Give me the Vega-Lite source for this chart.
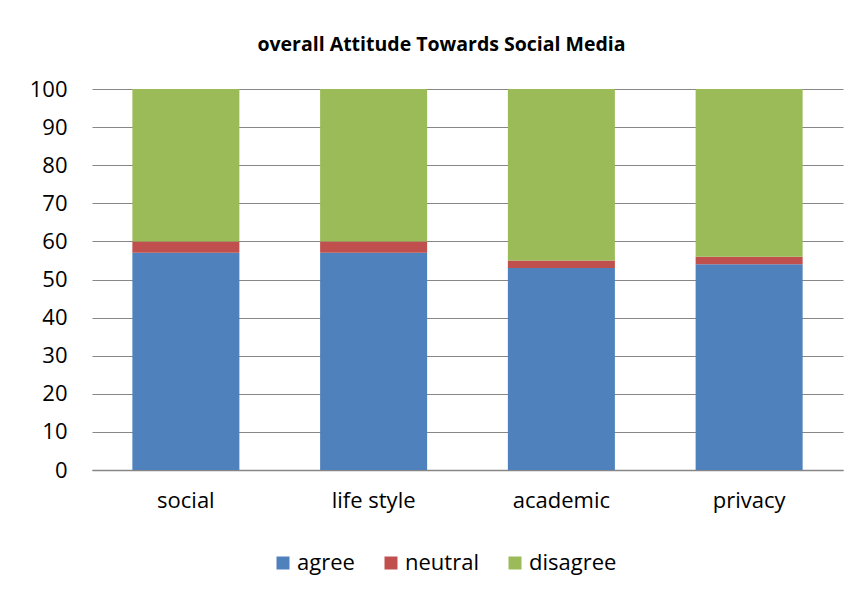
{
  "$schema": "https://vega.github.io/schema/vega-lite/v6.json",
  "width": 751,
  "height": 381,
  "autosize": {"type": "none"},
  "padding": {"left": 92, "top": 89, "right": 18, "bottom": 128},
  "background": "white",
  "title": {
    "text": "overall Attitude Towards Social Media",
    "font": "Open Sans",
    "fontSize": 19.5,
    "fontWeight": "bold",
    "color": "#000000",
    "anchor": "middle",
    "frame": "group",
    "dx": -26,
    "offset": 23
  },
  "data": {
    "values": [
      {"category": "social", "response": "agree", "value": 57},
      {"category": "social", "response": "neutral", "value": 3},
      {"category": "social", "response": "disagree", "value": 40},
      {"category": "life style", "response": "agree", "value": 57},
      {"category": "life style", "response": "neutral", "value": 3},
      {"category": "life style", "response": "disagree", "value": 40},
      {"category": "academic", "response": "agree", "value": 53},
      {"category": "academic", "response": "neutral", "value": 2},
      {"category": "academic", "response": "disagree", "value": 45},
      {"category": "privacy", "response": "agree", "value": 54},
      {"category": "privacy", "response": "neutral", "value": 2},
      {"category": "privacy", "response": "disagree", "value": 44}
    ]
  },
  "transform": [
    {"calculate": "indexof(['agree', 'neutral', 'disagree'], datum.response)", "as": "stackOrder"}
  ],
  "mark": {"type": "bar"},
  "encoding": {
    "x": {
      "field": "category",
      "type": "nominal",
      "sort": ["social", "life style", "academic", "privacy"],
      "scale": {"paddingInner": 0.43, "paddingOuter": 0.215},
      "axis": {
        "title": null,
        "labelAngle": 0,
        "labelFont": "Open Sans",
        "labelFontSize": 22,
        "labelColor": "#000000",
        "ticks": false,
        "labelPadding": 20,
        "domainColor": "#868686",
        "domainWidth": 1.5,
        "grid": false
      }
    },
    "y": {
      "field": "value",
      "type": "quantitative",
      "stack": "zero",
      "scale": {"domain": [0, 100], "nice": false},
      "axis": {
        "title": null,
        "values": [0, 10, 20, 30, 40, 50, 60, 70, 80, 90, 100],
        "labelFont": "Open Sans",
        "labelFontSize": 22,
        "labelColor": "#000000",
        "ticks": false,
        "domain": false,
        "labelPadding": 25,
        "grid": true,
        "gridColor": "#878787",
        "gridWidth": 1.2
      }
    },
    "color": {
      "field": "response",
      "type": "nominal",
      "sort": ["agree", "neutral", "disagree"],
      "scale": {
        "domain": ["agree", "neutral", "disagree"],
        "range": ["#4F81BD", "#C0504D", "#9BBB59"]
      },
      "legend": {
        "title": null,
        "orient": "none",
        "direction": "horizontal",
        "legendX": 180,
        "legendY": 463,
        "symbolType": "square",
        "symbolSize": 169,
        "symbolStrokeWidth": 0,
        "labelFont": "Open Sans",
        "labelFontSize": 22,
        "labelColor": "#000000",
        "labelOffset": 3,
        "columnPadding": 25
      }
    },
    "order": {"field": "stackOrder", "type": "quantitative", "sort": "ascending"}
  },
  "config": {
    "view": {"stroke": null}
  }
}
